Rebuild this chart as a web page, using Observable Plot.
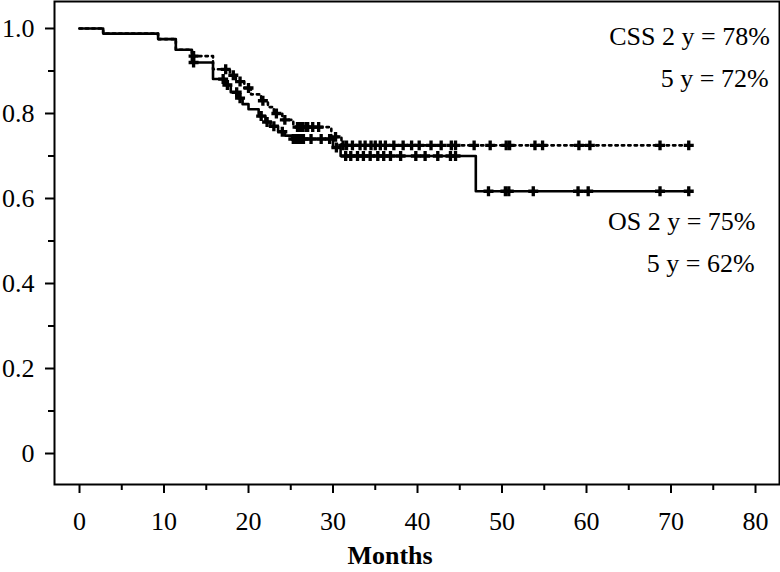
<!DOCTYPE html>
<html><head><meta charset="utf-8">
<script src="https://cdn.jsdelivr.net/npm/d3@7"></script>
<script src="https://cdn.jsdelivr.net/npm/@observablehq/plot@0.6"></script>
<style>body{margin:0;background:#fff}</style>
</head><body><div id="chart"></div>
<script>
// Overall survival (solid): event times (months) and survival after each step
const osTimes = [0, 2.8, 9.3, 11.4, 13.3, 15.8, 17.2, 17.9, 18.8, 19.3, 20.0, 21.2, 22.0, 22.6, 23.5, 24.3, 25.2, 30.0, 30.9, 46.9];
const osSurv  = [1.0, 0.988, 0.975, 0.95, 0.92, 0.881, 0.867, 0.85, 0.836, 0.822, 0.81, 0.794, 0.78, 0.77, 0.757, 0.748, 0.74, 0.72, 0.70, 0.617];
const osCensor = [13.5, 17.0, 17.5, 18.6, 19.0, 21.5, 22.2, 23.0, 24.0, 25.3, 25.6, 25.9, 26.2, 26.5, 27.4, 28.6, 29.6, 30.4, 31.5, 32.1, 32.9, 33.6, 34.4, 35.3, 36.0, 36.8, 38.0, 39.8, 40.9, 42.4, 43.9, 44.5, 48.4, 50.4, 50.8, 53.7, 59.0, 60.2, 68.7, 72.1];

// Cancer-specific survival (dotted)
const cssTimes = [0, 2.8, 9.3, 11.4, 13.3, 15.8, 17.8, 18.5, 19.5, 20.3, 21.5, 22.3, 23.0, 24.0, 25.3, 29.8, 31.0];
const cssSurv  = [1.0, 0.988, 0.975, 0.95, 0.935, 0.904, 0.89, 0.875, 0.86, 0.845, 0.83, 0.815, 0.80, 0.785, 0.768, 0.745, 0.725];
const cssCensor = [13.5, 17.3, 18.2, 19.0, 20.0, 21.7, 23.3, 24.3, 25.8, 26.1, 26.4, 26.8, 27.0, 27.6, 28.3, 30.3, 31.2, 31.6, 32.3, 33.2, 33.8, 34.5, 35.0, 35.6, 36.2, 37.2, 38.3, 39.3, 40.2, 41.6, 42.8, 44.0, 44.5, 46.7, 48.6, 50.5, 50.9, 53.9, 54.8, 59.1, 60.4, 68.7, 72.1];

const xTicks = [0, 10, 20, 30, 40, 50, 60, 70, 80];
const xMinor = [5, 15, 25, 35, 45, 55, 65, 75];
const yTicks = [0, 0.2, 0.4, 0.6, 0.8, 1.0];
const yTickLabels = ["0", "0.2", "0.4", "0.6", "0.8", "1.0"];
const yMinor = [0.1, 0.3, 0.5, 0.7, 0.9];
const annotations = ["CSS 2 y = 78%", "5 y = 72%", "OS 2 y = 75%", "5 y = 62%"];
const xLabel = "Months";

function stepData(times, surv, censor) {
  const pts = times.map((t, i) => ({t, s: surv[i]}));
  const end = Math.max(...censor);
  pts.push({t: end, s: surv[surv.length - 1]});
  return pts;
}
function lookup(times, surv, t) {
  let s = surv[0];
  for (let i = 0; i < times.length; i++) if (times[i] <= t) s = surv[i];
  return s;
}
const osLine = stepData(osTimes, osSurv, osCensor);
const cssLine = stepData(cssTimes, cssSurv, cssCensor);
const osMarks = osCensor.map(t => ({t, s: lookup(osTimes, osSurv, t)}));
const cssMarks = cssCensor.map(t => ({t, s: lookup(cssTimes, cssSurv, t)}));
const yFmt = new Map(yTicks.map((v, i) => [v, yTickLabels[i]]));

const FS = 26;
const chart = Plot.plot({
  width: 780,
  height: 572,
  marginLeft: 54,
  marginRight: 1,
  marginTop: 1,
  marginBottom: 88,
  style: {fontFamily: "'Liberation Serif', serif", fontSize: FS + "px", color: "black", background: "white"},
  x: {domain: [-2.96, 82.84], axis: null},
  y: {domain: [-0.0729, 1.0635], axis: null},
  marks: [
    Plot.axisY(yTicks, {tickSize: 9, tickPadding: 11, tickFormat: d => yFmt.get(d), fontSize: FS, strokeWidth: 2, label: null}),
    Plot.axisY(yMinor, {tickSize: 6, text: null, strokeWidth: 2, label: null}),
    Plot.axisX(xTicks, {tickSize: 9, tickPadding: 18, fontSize: FS, strokeWidth: 2, label: null}),
    Plot.axisX(xMinor, {tickSize: 6, text: null, strokeWidth: 2, label: null}),
    Plot.line(cssLine, {x: "t", y: "s", curve: "step-after", stroke: "black", strokeWidth: 2.6, strokeDasharray: "2.4,4"}),
    Plot.line(osLine, {x: "t", y: "s", curve: "step-after", stroke: "black", strokeWidth: 2.6}),
    Plot.dot(cssMarks, {x: "t", y: "s", symbol: "cross", r: 4.2, fill: "black", stroke: null}),
    Plot.dot(osMarks, {x: "t", y: "s", symbol: "cross", r: 4.2, fill: "black", stroke: null}),
    Plot.text([annotations[0]], {x: 81.7, y: 0.981, textAnchor: "end", fontSize: FS}),
    Plot.text([annotations[1]], {x: 81.55, y: 0.882, textAnchor: "end", fontSize: FS}),
    Plot.text([annotations[2]], {x: 80.0, y: 0.546, textAnchor: "end", fontSize: FS}),
    Plot.text([annotations[3]], {x: 79.9, y: 0.447, textAnchor: "end", fontSize: FS}),
    Plot.text([xLabel], {frameAnchor: "bottom", dx: -27, dy: 79, fontWeight: "bold", fontSize: FS}),
    Plot.frame({stroke: "black", strokeWidth: 2})
  ]
});
document.getElementById("chart").appendChild(chart);
</script>
</body></html>
